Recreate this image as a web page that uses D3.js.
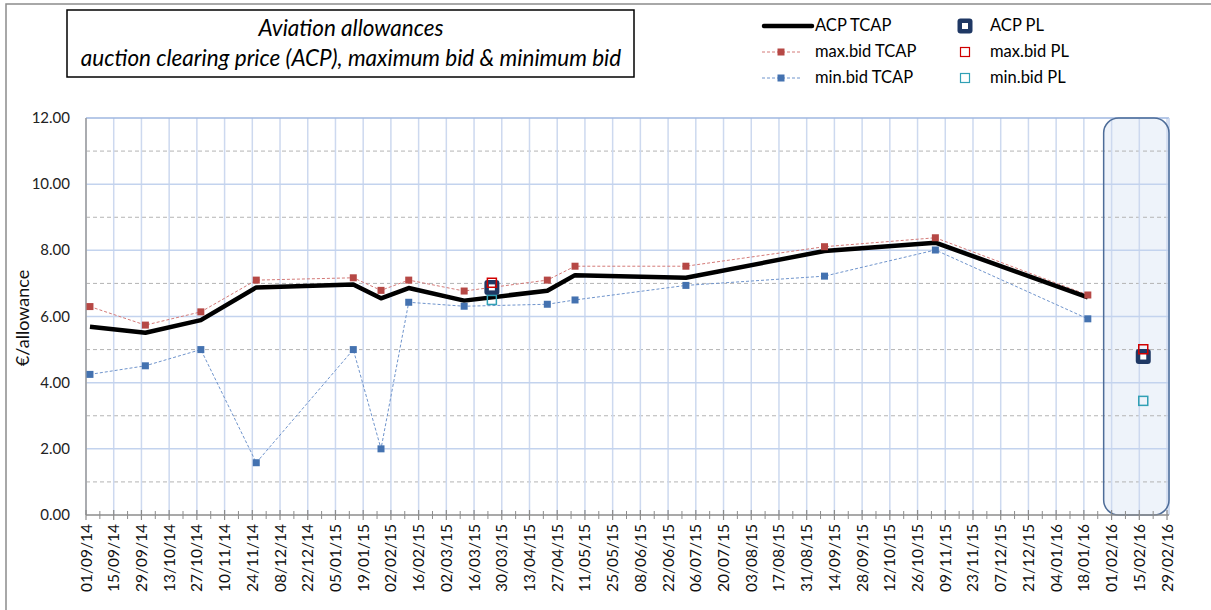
<!DOCTYPE html>
<html>
<head>
<meta charset="utf-8">
<script src="https://cdn.jsdelivr.net/npm/d3@7"></script>
<style>
  body { margin: 0; background: #fff; }
  text { font-family: Lato, "Liberation Sans", sans-serif; }
</style>
</head>
<body>
<script>
// TCAP auctions
var tcapDates = ["03/09/14", "01/10/14", "29/10/14", "26/11/14", "14/01/15", "28/01/15", "11/02/15",
                 "11/03/15", "22/04/15", "06/05/15", "01/07/15", "09/09/15", "04/11/15", "20/01/16"];
var acpTcap = [5.69, 5.51, 5.89, 6.88, 6.97, 6.55, 6.86, 6.48, 6.78, 7.25, 7.17, 7.98, 8.23, 6.58];
var maxTcap = [6.30, 5.74, 6.14, 7.10, 7.17, 6.79, 7.10, 6.77, 7.10, 7.52, 7.52, 8.11, 8.38, 6.65];
var minTcap = [4.25, 4.51, 5.00, 1.58, 5.00, 2.00, 6.43, 6.31, 6.37, 6.50, 6.94, 7.22, 8.01, 5.93];

// PL auctions
var plDates = ["25/03/15", "17/02/16"];
var acpPl = [6.88, 4.79];
var maxPl = [7.02, 5.01];
var minPl = [6.50, 3.45];

var yTicks = [0, 2, 4, 6, 8, 10, 12];
var yMinor = [1, 3, 5, 7, 9, 11];
var axisStart = "01/09/14", axisEnd = "01/03/16";
var highlightFrom = "28/01/16";

var width = 1211,
    height = 610;

var parse = d3.utcParse("%d/%m/%y"),
    fmt = d3.utcFormat("%d/%m/%y");

var svg = d3.select("body").append("svg")
    .attr("width", width)
    .attr("height", height);

// chart area border
svg.append("rect")
    .attr("x", 6).attr("y", 4)
    .attr("width", width + 20).attr("height", height + 20)
    .attr("fill", "none")
    .attr("stroke", "#8c8c8c")
    .attr("stroke-width", 1.5);

var x = d3.scaleUtc()
    .domain([parse(axisStart), parse(axisEnd)])
    .range([86, 1169]);

var y = d3.scaleLinear()
    .domain([0, 12])
    .range([515, 118]);

var allDays = d3.utcDay.range(parse(axisStart), parse(axisEnd));
var major = allDays.filter(function(d, i) { return i % 14 === 0; });
var minor = allDays.filter(function(d, i) { return i % 14 === 7; });

// highlighted PL area
svg.append("rect")
    .attr("x", x(parse(highlightFrom)))
    .attr("y", y(12))
    .attr("width", x.range()[1] - x(parse(highlightFrom)))
    .attr("height", y(0) - y(12))
    .attr("rx", 15)
    .attr("fill", "#eef3fa");

// minor horizontal grid
svg.append("g").selectAll("line")
    .data(yMinor)
    .enter().append("line")
    .attr("x1", x.range()[0]).attr("x2", x.range()[1])
    .attr("y1", function(d) { return y(d); })
    .attr("y2", function(d) { return y(d); })
    .attr("stroke", "#b4b4b4")
    .attr("stroke-width", 1)
    .attr("stroke-dasharray", "4,3");

// vertical grid
svg.append("g").selectAll("line")
    .data(major)
    .enter().append("line")
    .attr("x1", function(d) { return x(d); })
    .attr("x2", function(d) { return x(d); })
    .attr("y1", y(12)).attr("y2", y(0))
    .attr("stroke", "#cdd9ef")
    .attr("stroke-width", 1.5);

// major horizontal grid
svg.append("g").selectAll("line")
    .data(yTicks.slice(1))
    .enter().append("line")
    .attr("x1", x.range()[0]).attr("x2", x.range()[1])
    .attr("y1", function(d) { return y(d); })
    .attr("y2", function(d) { return y(d); })
    .attr("stroke", function(d) { return d === 12 ? "#9fb7e0" : "#c3d3ee"; })
    .attr("stroke-width", 1.5);

// right plot edge
svg.append("line")
    .attr("x1", x.range()[1]).attr("x2", x.range()[1])
    .attr("y1", y(12)).attr("y2", y(0))
    .attr("stroke", "#c3d3ee").attr("stroke-width", 1.5);

// highlight outline
svg.append("rect")
    .attr("x", x(parse(highlightFrom)))
    .attr("y", y(12))
    .attr("width", x.range()[1] - x(parse(highlightFrom)))
    .attr("height", y(0) - y(12))
    .attr("rx", 15)
    .attr("fill", "none")
    .attr("stroke", "#4e6d99")
    .attr("stroke-width", 1.5);

// y axis
svg.append("line")
    .attr("x1", x.range()[0]).attr("x2", x.range()[0])
    .attr("y1", y(12)).attr("y2", y(0))
    .attr("stroke", "#9a9a9a").attr("stroke-width", 1.5);

svg.append("g").selectAll("text")
    .data(yTicks)
    .enter().append("text")
    .attr("x", 70)
    .attr("y", function(d) { return y(d) + 5; })
    .attr("text-anchor", "end")
    .attr("font-size", 15)
    .attr("fill", "#222")
    .text(function(d) { return d3.format(".2f")(d); });

svg.append("text")
    .attr("transform", "translate(29," + 318 + ")rotate(-90)")
    .attr("text-anchor", "middle")
    .attr("font-size", 18)
    .attr("fill", "#111")
    .text("€/allowance");

// x axis
svg.append("line")
    .attr("x1", x.range()[0]).attr("x2", x.range()[1])
    .attr("y1", y(0)).attr("y2", y(0))
    .attr("stroke", "#8c8c8c").attr("stroke-width", 1.5);

svg.append("g").selectAll("line")
    .data(major)
    .enter().append("line")
    .attr("x1", function(d) { return x(d); })
    .attr("x2", function(d) { return x(d); })
    .attr("y1", y(0) - 5).attr("y2", y(0) + 5)
    .attr("stroke", "#8c8c8c").attr("stroke-width", 1.2);

svg.append("g").selectAll("line")
    .data(minor)
    .enter().append("line")
    .attr("x1", function(d) { return x(d); })
    .attr("x2", function(d) { return x(d); })
    .attr("y1", y(0) - 4).attr("y2", y(0) + 4)
    .attr("stroke", "#8c8c8c").attr("stroke-width", 1);

svg.append("g").selectAll("text")
    .data(major)
    .enter().append("text")
    .attr("transform", function(d) { return "translate(" + (x(d) + 5.5) + "," + (y(0) + 9) + ")rotate(-90)"; })
    .attr("text-anchor", "end")
    .attr("font-size", 15.5)
    .attr("fill", "#111")
    .text(function(d) { return fmt(d); });

// series
var tcap = tcapDates.map(function(d, i) {
    return { date: parse(d), acp: acpTcap[i], max: maxTcap[i], min: minTcap[i] };
});
var pl = plDates.map(function(d, i) {
    return { date: parse(d), acp: acpPl[i], max: maxPl[i], min: minPl[i] };
});

function lineFor(key) {
    return d3.line()
        .x(function(d) { return x(d.date); })
        .y(function(d) { return y(d[key]); });
}

var maxColor = "#b64845", minColor = "#4472b0";

svg.append("path")
    .datum(tcap)
    .attr("d", lineFor("min"))
    .attr("fill", "none")
    .attr("stroke", "#6f94cc")
    .attr("stroke-width", 1)
    .attr("stroke-dasharray", "3,2");

svg.append("path")
    .datum(tcap)
    .attr("d", lineFor("max"))
    .attr("fill", "none")
    .attr("stroke", "#d47a78")
    .attr("stroke-width", 1)
    .attr("stroke-dasharray", "3,2");

svg.append("path")
    .datum(tcap)
    .attr("d", lineFor("acp"))
    .attr("fill", "none")
    .attr("stroke", "#000")
    .attr("stroke-width", 4.5)
    .attr("stroke-linejoin", "round");

svg.append("g").selectAll("rect")
    .data(tcap)
    .enter().append("rect")
    .attr("x", function(d) { return x(d.date) - 3.5; })
    .attr("y", function(d) { return y(d.max) - 3.5; })
    .attr("width", 7).attr("height", 7)
    .attr("fill", maxColor);

svg.append("g").selectAll("rect")
    .data(tcap)
    .enter().append("rect")
    .attr("x", function(d) { return x(d.date) - 3.5; })
    .attr("y", function(d) { return y(d.min) - 3.5; })
    .attr("width", 7).attr("height", 7)
    .attr("fill", minColor);

// PL markers
var plAcp = svg.append("g").selectAll("g")
    .data(pl)
    .enter().append("g")
    .attr("transform", function(d) { return "translate(" + x(d.date) + "," + y(d.acp) + ")"; });
plAcp.append("rect")
    .attr("x", -7.5).attr("y", -7.5)
    .attr("width", 15).attr("height", 15)
    .attr("rx", 3)
    .attr("fill", "#1f3864");
plAcp.append("rect")
    .attr("x", -3).attr("y", -3)
    .attr("width", 6).attr("height", 6)
    .attr("fill", "#fff");

svg.append("g").selectAll("rect")
    .data(pl)
    .enter().append("rect")
    .attr("x", function(d) { return x(d.date) - 4.5; })
    .attr("y", function(d) { return y(d.max) - 4.5; })
    .attr("width", 9).attr("height", 9)
    .attr("fill", "none")
    .attr("stroke", "#d00000")
    .attr("stroke-width", 1.5);

svg.append("g").selectAll("rect")
    .data(pl)
    .enter().append("rect")
    .attr("x", function(d) { return x(d.date) - 4.5; })
    .attr("y", function(d) { return y(d.min) - 4.5; })
    .attr("width", 9).attr("height", 9)
    .attr("fill", "none")
    .attr("stroke", "#31a0b5")
    .attr("stroke-width", 1.5);

// title box
svg.append("rect")
    .attr("x", 67).attr("y", 10)
    .attr("width", 567).attr("height", 67)
    .attr("fill", "#fff")
    .attr("stroke", "#000")
    .attr("stroke-width", 1.5);

svg.append("text")
    .attr("x", 351).attr("y", 36)
    .attr("text-anchor", "middle")
    .attr("font-size", 22.5)
    .attr("font-style", "italic")
    .text("Aviation allowances");

svg.append("text")
    .attr("x", 351).attr("y", 66)
    .attr("text-anchor", "middle")
    .attr("font-size", 22.5)
    .attr("font-style", "italic")
    .text("auction clearing price (ACP), maximum bid & minimum bid");

// legend
var leg = svg.append("g").attr("font-size", 16.5);

leg.append("line")
    .attr("x1", 764).attr("x2", 812).attr("y1", 26).attr("y2", 26)
    .attr("stroke", "#000").attr("stroke-width", 4.5).attr("stroke-linecap", "round");
leg.append("text").attr("x", 815).attr("y", 31).text("ACP TCAP");

[[52, "#d47a78", maxColor, "max.bid TCAP"], [78, "#6f94cc", minColor, "min.bid TCAP"]].forEach(function(r) {
    leg.append("line")
        .attr("x1", 762).attr("x2", 800).attr("y1", r[0]).attr("y2", r[0])
        .attr("stroke", r[1]).attr("stroke-width", 1).attr("stroke-dasharray", "3,2");
    leg.append("rect")
        .attr("x", 781 - 3.5).attr("y", r[0] - 3.5)
        .attr("width", 7).attr("height", 7)
        .attr("fill", r[2]);
    leg.append("text").attr("x", 815).attr("y", r[0] + 5).text(r[3]);
});

var lp = leg.append("g").attr("transform", "translate(965,26)");
lp.append("rect").attr("x", -7.5).attr("y", -7.5).attr("width", 15).attr("height", 15)
    .attr("rx", 3).attr("fill", "#1f3864");
lp.append("rect").attr("x", -3).attr("y", -3).attr("width", 6).attr("height", 6).attr("fill", "#fff");
leg.append("text").attr("x", 990).attr("y", 31).text("ACP PL");

leg.append("rect").attr("x", 965 - 4.5).attr("y", 52 - 4.5).attr("width", 9).attr("height", 9)
    .attr("fill", "none").attr("stroke", "#d00000").attr("stroke-width", 1.2);
leg.append("text").attr("x", 990).attr("y", 57).text("max.bid PL");

leg.append("rect").attr("x", 965 - 4.5).attr("y", 78 - 4.5).attr("width", 9).attr("height", 9)
    .attr("fill", "none").attr("stroke", "#31a0b5").attr("stroke-width", 1.2);
leg.append("text").attr("x", 990).attr("y", 83).text("min.bid PL");
</script>
</body>
</html>
